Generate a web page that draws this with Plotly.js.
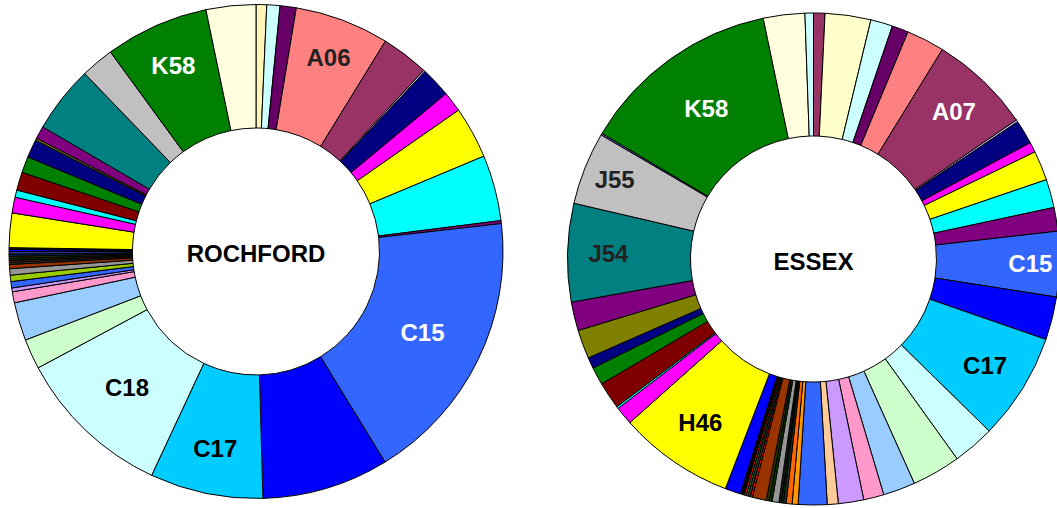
<!DOCTYPE html>
<html>
<head>
<meta charset="utf-8">
<script src="https://cdn.plot.ly/plotly-3.0.1.min.js"></script>
<style>
html,body{margin:0;padding:0;background:#fff;overflow:hidden;}
#chart{width:1062px;height:508px;}
</style>
</head>
<body>
<div id="chart"></div>
<script>
// Shares (degrees of the ring, clockwise from 12 o'clock)
const rochfordShares = [2.5, 3.1, 3.8, 22.2, 11.2, 0.4, 7.1, 4.8, 12.2, 15.5, 0.7, 65.0, 29.9, 26.6, 36.9, 7.1, 9.0, 2.6, 0.9, 1.5, 1.5, 1.5, 1.0, 0.5, 0.4, 0.5, 0.5, 0.5, 0.6, 0.5, 0.4, 8.1, 3.7, 1.7, 4.3, 3.8, 4.3, 0.5, 3.0, 15.8, 7.8, 24.4, 11.7];
const rochfordColors = ['#FFF6B8','#CCFFFF','#660066','#FF8080','#993366','#CCCCFF','#000080','#FF00FF','#FFFF00','#00FFFF','#800080','#3366FF','#0000FF','#00CCFF','#CCFFFF','#CCFFCC','#99CCFF','#FF99CC','#CC99FF','#3366FF','#99CC00','#969696','#993300','#333333','#993300','#003300','#333300','#003366','#333399','#0000FF','#1A1A1A','#FFFF00','#FF00FF','#00FFFF','#800000','#008000','#000080','#808000','#800080','#008080','#C0C0C0','#008000','#FFFFE0'];
const rochfordText = ['','','','A06','','','','','','','','C15','','C17','C18','','','','','','','','','','','','','','','','','','','','','','','','','','','K58',''];
const rochfordTextColors = rochfordText.map((t,i)=> (t==='K58'||t==='C15') ? '#FFFFFF' : (t==='A06' ? '#222222' : '#000000'));

const essexShares = [2.7, 10.8, 5.2, 3.9, 9.0, 24.0, 0.5, 5.7, 2.4, 7.0, 6.7, 5.6, 15.4, 10.2, 25.3, 9.9, 11.5, 7.6, 4.8, 6.0, 2.6, 6.8, 1.4, 1.4, 0.6, 0.5, 0.6, 1.6, 0.7, 0.7, 3.3, 0.5, 0.6, 0.4, 0.5, 0.9, 3.7, 27.3, 4.3, 0.5, 6.4, 4.2, 2.6, 6.8, 6.8, 23.2, 17.2, 0.4, 47.5, 9.8, 2.0];
const essexColors = ['#993366','#FFFFCC','#CCFFFF','#660066','#FF8080','#993366','#CCCCFF','#000080','#FF00FF','#FFFF00','#00FFFF','#800080','#3366FF','#0000FF','#00CCFF','#CCFFFF','#CCFFCC','#99CCFF','#FF99CC','#CC99FF','#FFCC99','#3366FF','#FF9900','#FF6600','#333333','#003300','#1A1A1A','#969696','#003300','#333300','#993300','#FF0000','#333333','#00CC00','#FF0000','#000000','#0000FF','#FFFF00','#FF00FF','#00FFFF','#800000','#008000','#000080','#808000','#800080','#008080','#C0C0C0','#6666CC','#008000','#FFFFE0','#CCFFFF'];
const essexText = ['','','','','','A07','','','','','','','C15','','C17','','','','','','','','','','','','','','','','','','','','','','','H46','','','','','','','','J54','J55','','K58','',''];
const essexTextColors = essexText.map(t => (t==='K58'||t==='C15'||t==='A07') ? '#FFFFFF' : ((t==='J55'||t==='J54') ? '#222222' : '#000000'));

const W = 1062, H = 508;
function dom(cx, cyTop, r){
  return {x:[(cx-r)/W,(cx+r)/W], y:[(H-(cyTop+r))/H,(H-(cyTop-r))/H]};
}
const fontFam = 'Arial, "Liberation Sans", sans-serif';

const traces = [
  {
    type:'pie', values: rochfordShares, sort:false, direction:'clockwise', rotation:0,
    hole:0.5, domain: dom(256, 251.5, 247),
    marker:{colors: rochfordColors, line:{color:'#000000', width:1}},
    text: rochfordText.map(t=> t ? '<b>'+t+'</b>' : ''), textinfo:'text', textposition:'inside',
    insidetextorientation:'horizontal',
    insidetextfont:{family:fontFam, size:24, color: rochfordTextColors},
    title:{text:'<b>ROCHFORD</b>', position:'middle center', font:{family:fontFam, size:24, color:'#000000'}},
    hoverinfo:'none', showlegend:false
  },
  {
    type:'pie', values: essexShares, sort:false, direction:'clockwise', rotation:0,
    hole:0.5, domain: dom(813.5, 259, 246),
    marker:{colors: essexColors, line:{color:'#000000', width:1}},
    text: essexText.map(t=> t ? '<b>'+t+'</b>' : ''), textinfo:'text', textposition:'inside',
    insidetextorientation:'horizontal',
    insidetextfont:{family:fontFam, size:24, color: essexTextColors},
    title:{text:'<b>ESSEX</b>', position:'middle center', font:{family:fontFam, size:24, color:'#000000'}},
    hoverinfo:'none', showlegend:false
  }
];

const layout = {
  width: W, height: H,
  margin:{l:0,r:0,t:0,b:0},
  paper_bgcolor:'#FFFFFF', plot_bgcolor:'#FFFFFF',
  showlegend:false
};
Plotly.newPlot('chart', traces, layout, {displayModeBar:false, staticPlot:true});
</script>
</body>
</html>
